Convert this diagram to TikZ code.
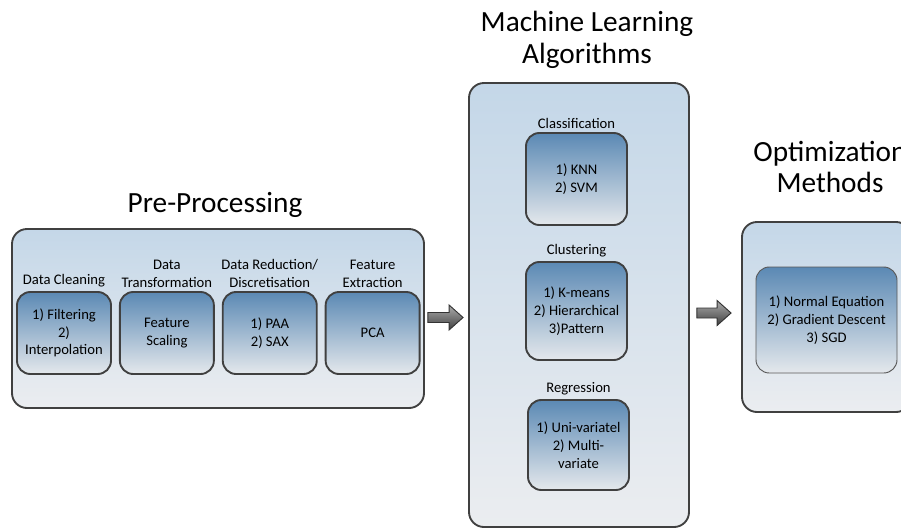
\documentclass[tikz,border=0pt]{standalone}
\usepackage{fontspec}
\setmainfont{Carlito}
\usepackage{tikz}
\usetikzlibrary{positioning,calc}

\definecolor{outertop}{HTML}{C4D7E8}
\definecolor{outerbottom}{HTML}{EBEDF0}
\definecolor{innertop}{HTML}{5B89B4}
\definecolor{innerbottom}{HTML}{E4E8EC}
\definecolor{edgegray}{HTML}{404040}

\begin{document}
\begin{tikzpicture}[
  x=0.03cm, y=-0.03cm,
  node distance=0.21cm and 0.21cm,
  outerbox/.style={draw=edgegray, line width=1.6pt, rounded corners=0.45cm, top color=outertop, bottom color=outerbottom},
  innerbox/.style={draw=edgegray, line width=1.6pt, rounded corners=0.4cm, top color=innertop, bottom color=innerbottom, align=center, inner sep=1pt, font=\fontsize{12.5}{15.2}\selectfont, minimum width=2.82cm, minimum height=2.46cm},
  caption/.style={align=center, inner sep=1pt, font=\fontsize{12.5}{15.2}\selectfont},
  heading/.style={align=center, font=\fontsize{25}{27}\selectfont},
  arrow/.style={draw=black!80, line width=0.8pt, top color=gray!65, bottom color=black!75}
]
\useasboundingbox (0,0) rectangle (901,528);
\clip (0,0) rectangle (901,528);

% Pre-processing
\node[heading] (pretitle) at (215,205) {Pre-Processing};
\node[outerbox, minimum width=12.36cm, minimum height=5.37cm] (pre) at (218,318.5) {};
\node[innerbox] (clean) at (64,333) {1) Filtering\\2)\\Interpolation};
\node[innerbox, right=of clean] (trans) {Feature\\Scaling};
\node[innerbox, right=of trans] (reduce) {1) PAA\\2) SAX};
\node[innerbox, right=of reduce] (extract) {PCA};
\node[caption, above=2pt of clean] {Data Cleaning};
\node[caption, above=2pt of trans] {Data\\Transformation};
\node[caption, above=2pt of reduce] {Data Reduction/\\Discretisation};
\node[caption, above=2pt of extract] {Feature\\Extraction};

% Machine learning
\node[heading] (mltitle) at (587,40) {Machine Learning\\Algorithms};
\node[outerbox, minimum width=6.6cm, minimum height=13.32cm] (ml) at (579,305) {};
\node[innerbox, minimum width=3.03cm, minimum height=2.76cm] (classify) at (576.5,179) {1) KNN\\2) SVM};
\node[innerbox, minimum width=3.03cm, minimum height=2.94cm] (cluster) at (576.5,311) {1) K-means\\2) Hierarchical\\3)Pattern};
\node[innerbox, minimum width=3.03cm, minimum height=2.7cm] (regress) at (578.5,445) {1) Uni-variatel\\2) Multi-\\variate};
\node[caption, above=2pt of classify] {Classification};
\node[caption, above=2pt of cluster] {Clustering};
\node[caption, above=2pt of regress] {Regression};

% Optimization
\node[heading] (opttitle) at (830,167) {Optimization\\Methods};
\node[outerbox, minimum width=5.07cm, minimum height=5.7cm] (opt) at (826.5,317) {};
\node[innerbox, line width=0.8pt, draw=black!65, minimum width=4.23cm, minimum height=3.18cm] (optalg) at (826.5,320) {1) Normal Equation\\2) Gradient Descent\\3) SGD};

% Arrows
\coordinate (a1s) at ($(pre.east)+(3,-1)$);
\coordinate (a1e) at ($(pre.east -| ml.west)+(-5,-1)$);
\coordinate (a2s) at ($(opt.west -| ml.east)+(7,-4)$);
\coordinate (a2e) at ($(opt.west)+(-10,-4)$);
\foreach \s/\e in {a1s/a1e, a2s/a2e}
  \draw[arrow] ($(\s)+(0,-5)$) -- ($(\e)+(-14,-5)$) -- ($(\e)+(-14,-12.5)$) -- (\e)
    -- ($(\e)+(-14,12.5)$) -- ($(\e)+(-14,5)$) -- ($(\s)+(0,5)$) -- cycle;

\end{tikzpicture}
\end{document}
